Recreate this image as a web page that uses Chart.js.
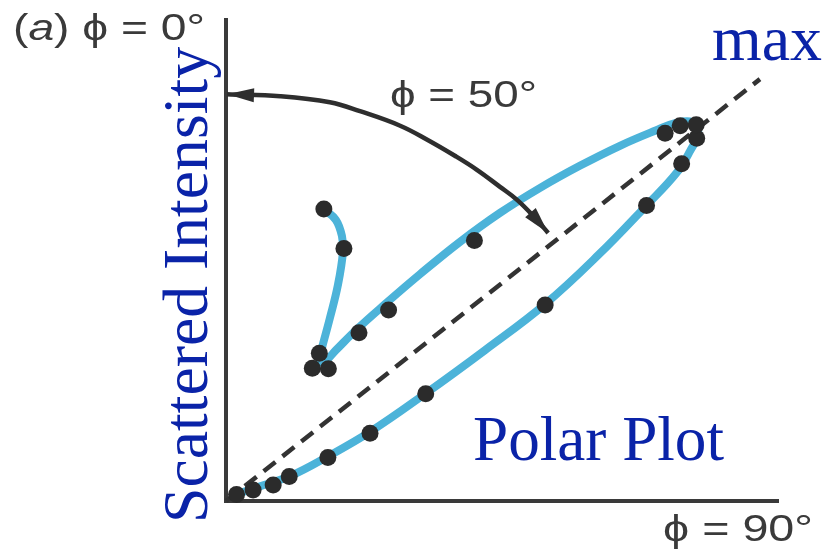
<!DOCTYPE html>
<html>
<head>
<meta charset="utf-8">
<script src="https://cdn.jsdelivr.net/npm/chart.js@4.4.0/dist/chart.umd.min.js"></script>
<style>
  body { margin: 0; background: #fff; }
</style>
</head>
<body>
<canvas id="chart" width="824" height="555"></canvas>
<script>
// measured points (black dots)
const dotX = [2.1, 5.4, 9.4, 12.6, 20.3, 28.7, 39.8, 63.6, 83.8, 90.8, 93.8, 93.7, 90.5, 87.5, 49.5, 32.4, 26.5, 18.6, 17.2, 20.4, 23.5, 19.5];
const dotY = [1.3, 2.2, 3.2, 4.9, 8.7, 13.5, 21.4, 39.1, 59.0, 67.3, 72.4, 75.1, 74.9, 73.4, 52.0, 38.1, 33.6, 29.5, 26.5, 26.4, 50.4, 58.3];

// fitted blue curve
const curveX = [19.5, 21.9, 23.1, 23.3, 22.3, 20.7, 19.1, 18.5, 19.5, 21.9, 26.1, 31.7, 38.7, 46.6, 54.6, 62.6, 70.5, 78.5, 85.5, 89.5, 92.9, 94.1, 92.5, 89.8, 83.9, 74.2, 63.6, 51.6, 39.7, 28.7, 20.1, 12.8, 6.4, 2.8];
const curveY = [58.3, 56.1, 52.9, 49.7, 43.1, 36.5, 30.5, 28.1, 27.7, 30.1, 34.3, 39.3, 45.3, 51.7, 57.5, 62.5, 66.9, 70.9, 73.9, 75.4, 75.6, 73.5, 69.9, 65.5, 59.1, 49.1, 39.3, 30.1, 21.4, 13.8, 8.8, 5.0, 2.8, 1.6];

// curved arrow between phi = 0 and phi = 50
const arrowX = [0.2, 10.8, 20.7, 26.7, 34.7, 40.1, 45.6, 50.0, 54.6, 58.0, 61.6, 64.2];
const arrowY = [81.2, 80.8, 79.6, 77.8, 74.9, 72.1, 68.9, 66.1, 62.7, 60.1, 56.5, 53.5];

// dashed reference line
const diagX = [0, 106.4];
const diagY = [0, 84.2];

const xMax = 110;
const yMax = 96;

const pts = (xs, ys) => xs.map((x, i) => ({ x: x, y: ys[i] }));

const SANS = '"Liberation Sans", Arial, sans-serif';
const SERIF = '"Liberation Serif", "Times New Roman", serif';
const GREY = '#3a3a3a';
const BLUE = '#0a23a8';

// text labels: runs, start x, baseline y, target width, rotated?
const labels = [
  { runs: [['(', '37px ' + SANS], ['a', 'italic 37px ' + SANS], [') \u03d5 = 0\u00b0', '37px ' + SANS]], x: 13, y: 40, w: 192, color: GREY },
  { runs: [['\u03d5 = 50\u00b0', '37px ' + SANS]], x: 390, y: 107, w: 147, color: GREY },
  { runs: [['\u03d5 = 90\u00b0', '37px ' + SANS]], x: 663, y: 541, w: 150, color: GREY },
  { runs: [['max', '64px ' + SERIF]], x: 712, y: 60, w: 110, color: BLUE },
  { runs: [['Polar Plot', '64px ' + SERIF]], x: 473, y: 460, w: 251, color: BLUE },
  { runs: [['Scattered Intensity', '64px ' + SERIF]], x: 207, y: 523, w: 476, color: BLUE, rotate: true }
];

const labelPlugin = {
  id: 'labels',
  afterDraw(chart) {
    const ctx = chart.ctx;
    labels.forEach(l => {
      let total = 0;
      l.runs.forEach(r => { ctx.font = r[1]; total += ctx.measureText(r[0]).width; });
      const sx = l.w / total;
      ctx.save();
      ctx.fillStyle = l.color;
      ctx.textBaseline = 'alphabetic';
      ctx.textAlign = 'left';
      ctx.translate(l.x, l.y);
      if (l.rotate) ctx.rotate(-Math.PI / 2);
      ctx.scale(sx, 1);
      let off = 0;
      l.runs.forEach(r => {
        ctx.font = r[1];
        ctx.fillText(r[0], off, 0);
        off += ctx.measureText(r[0]).width;
      });
      ctx.restore();
    });
  }
};

function drawHead(ctx, tip, from, len, half, color) {
  let dx = tip.x - from.x, dy = tip.y - from.y;
  const d = Math.hypot(dx, dy) || 1;
  dx /= d; dy /= d;
  const bx = tip.x - dx * len, by = tip.y - dy * len;
  ctx.beginPath();
  ctx.moveTo(tip.x, tip.y);
  ctx.lineTo(bx - dy * half, by + dx * half);
  ctx.lineTo(bx + dy * half, by - dx * half);
  ctx.closePath();
  ctx.fillStyle = color;
  ctx.fill();
}

const arrowPlugin = {
  id: 'arrowHeads',
  afterDatasetsDraw(chart) {
    const ctx = chart.ctx;
    chart.data.datasets.forEach((ds, i) => {
      if (!ds.arrowHeads) return;
      const p = chart.getDatasetMeta(i).data;
      const n = p.length;
      ctx.save();
      drawHead(ctx, p[0], p[1], 27, 7, ds.borderColor);
      drawHead(ctx, p[n - 1], p[n - 2], 27, 7, ds.borderColor);
      ctx.restore();
    });
  }
};

const axisOpts = (max) => ({
  type: 'linear',
  min: 0,
  max: max,
  grid: { display: false, drawTicks: false },
  ticks: { display: false },
  border: { display: true, color: '#3a3a3a', width: 4 }
});

const ctx = document.getElementById('chart').getContext('2d');
const chart = new Chart(ctx, {
  type: 'scatter',
  data: {
    datasets: [
      {
        label: 'measured',
        data: pts(dotX, dotY),
        pointRadius: 8.5,
        pointBorderWidth: 0,
        pointBackgroundColor: '#2b2b2b',
        showLine: false,
        clip: false
      },
      {
        label: 'arrow',
        data: pts(arrowX, arrowY),
        showLine: true,
        borderColor: '#2e2e2e',
        borderWidth: 4.5,
        pointRadius: 0,
        tension: 0.4,
        arrowHeads: true,
        clip: false
      },
      {
        label: 'curve',
        data: pts(curveX, curveY),
        showLine: true,
        borderColor: '#4cb3d9',
        borderWidth: 8,
        pointRadius: 0,
        tension: 0.4,
        clip: false
      },
      {
        label: 'diagonal',
        data: pts(diagX, diagY),
        showLine: true,
        borderColor: '#333333',
        borderWidth: 4.5,
        borderDash: [15, 9],
        pointRadius: 0,
        clip: false
      }
    ]
  },
  options: {
    responsive: false,
    animation: false,
    layout: { padding: { left: 226, right: 46, top: 20, bottom: 54 } },
    plugins: { legend: { display: false }, tooltip: { enabled: false } },
    scales: {
      x: axisOpts(xMax),
      y: axisOpts(yMax)
    }
  },
  plugins: [arrowPlugin, labelPlugin]
});
</script>
</body>
</html>
